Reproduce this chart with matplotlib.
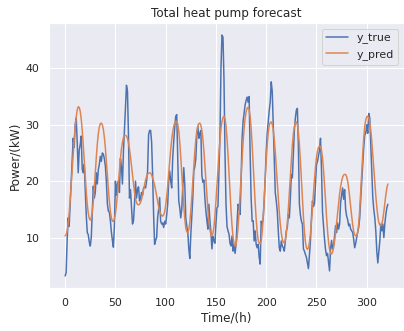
import numpy as np
import matplotlib
matplotlib.use("Agg")
import matplotlib.pyplot as plt
import seaborn as sns

# hourly values
y_true = [
    3.2, 3.8, 9.5, 13.5, 12.0, 15.9, 19.4, 24.0, 27.6, 26.0,
    30.0, 31.2, 27.0, 21.5, 25.5, 26.5, 28.0, 22.1, 21.5, 23.0,
    18.5, 14.0, 10.9, 10.5, 9.2, 8.5, 10.0, 14.5, 19.1, 17.0,
    18.0, 21.5, 19.5, 22.0, 23.0, 24.4, 23.5, 25.0, 24.8, 24.0,
    22.7, 20.0, 16.0, 14.7, 14.5, 13.0, 11.0, 9.5, 8.3, 12.0,
    20.0, 17.5, 19.5, 20.0, 18.0, 24.0, 22.5, 19.5, 25.3, 29.0,
    33.0, 37.0, 36.0, 28.0, 17.0, 18.5, 15.5, 12.4, 13.0, 16.0,
    20.0, 17.0, 18.5, 19.0, 16.5, 17.0, 18.0, 17.5, 18.8, 19.0,
    18.8, 20.0, 21.8, 28.2, 29.0, 29.0, 27.0, 21.2, 14.0, 8.8,
    9.5, 10.0, 13.5, 15.0, 17.1, 12.9, 12.4, 12.6, 11.8, 12.9,
    12.4, 14.0, 15.9, 20.0, 21.8, 20.0, 18.8, 24.1, 27.0, 29.5,
    31.5, 31.8, 24.0, 16.5, 15.3, 13.5, 15.0, 19.0, 22.4, 19.4,
    13.5, 12.0, 11.0, 8.0, 6.3, 10.5, 13.8, 17.1, 21.8, 22.6,
    24.0, 28.2, 29.7, 27.6, 28.5, 29.0, 21.0, 19.8, 20.2, 17.0,
    14.7, 13.0, 11.5, 15.9, 13.0, 11.0, 8.0, 10.2, 9.5, 9.0,
    12.4, 15.3, 15.5, 22.0, 28.0, 40.0, 45.9, 45.5, 38.0, 25.0,
    16.0, 12.0, 11.2, 10.6, 9.0, 8.5, 10.3, 7.6, 8.8, 7.2,
    8.8, 12.7, 15.9, 15.3, 14.1, 20.0, 27.6, 30.6, 32.0, 33.5,
    34.3, 34.9, 34.0, 35.0, 25.0, 17.0, 12.9, 13.0, 9.4, 11.2,
    8.8, 8.2, 8.8, 6.5, 5.3, 12.9, 12.4, 13.5, 16.5, 20.6,
    25.3, 28.5, 30.5, 32.5, 34.1, 37.6, 35.9, 30.0, 24.0, 18.0,
    16.5, 14.7, 11.2, 8.2, 7.6, 9.4, 8.5, 8.2, 7.6, 9.5,
    11.2, 11.8, 14.1, 13.5, 17.0, 21.2, 20.6, 25.0, 29.0, 31.2,
    32.6, 32.9, 26.0, 16.0, 14.0, 12.9, 12.4, 8.0, 7.6, 7.0,
    6.5, 5.5, 4.5, 7.0, 9.4, 13.5, 16.5, 15.5, 16.0, 19.4,
    22.9, 23.5, 24.5, 25.5, 27.6, 22.0, 14.5, 12.0, 9.7, 7.9,
    6.8, 7.2, 5.6, 4.1, 7.9, 9.5, 8.0, 8.5, 10.3, 12.1,
    10.9, 12.6, 11.5, 12.4, 16.2, 17.5, 18.8, 16.8, 18.5, 15.0,
    13.8, 13.2, 12.1, 12.4, 11.5, 11.2, 10.9, 9.7, 8.2, 9.0,
    10.0, 11.0, 11.8, 13.5, 16.8, 20.0, 23.0, 26.0, 28.2, 28.5,
    30.0, 28.5, 32.0, 31.2, 26.5, 21.8, 17.1, 15.0, 13.5, 11.2,
    7.6, 5.5, 7.5, 9.4, 12.4, 11.2, 12.4, 10.0, 12.5, 14.1,
    15.3, 15.9,
]

y_pred = [
    10.3, 10.5, 11.2, 12.5, 14.3, 16.6, 19.2, 22.0, 24.8, 27.4,
    29.6, 31.3, 32.6, 33.2, 33.1, 32.4, 31.0, 29.0, 26.5, 23.7,
    20.8, 18.1, 15.9, 14.3, 13.4, 13.1, 13.5, 14.6, 16.4, 18.8,
    21.5, 24.2, 26.6, 28.4, 29.6, 30.2, 30.3, 30.0, 29.2, 27.8,
    25.9, 23.6, 21.1, 18.6, 16.4, 14.6, 13.5, 12.9, 12.9, 13.3,
    14.2, 15.7, 17.6, 19.8, 22.0, 24.0, 25.7, 26.9, 27.7, 28.1,
    28.1, 28.0, 27.6, 26.8, 25.7, 24.3, 22.7, 21.0, 19.4, 18.0,
    16.9, 16.2, 15.9, 15.8, 15.9, 16.2, 16.8, 17.6, 18.5, 19.4,
    20.2, 20.8, 21.2, 21.4, 21.5, 21.4, 21.1, 20.6, 20.0, 19.3,
    18.4, 17.4, 16.4, 15.5, 14.7, 14.2, 13.9, 13.8, 14.0, 14.6,
    15.7, 17.3, 19.2, 21.4, 23.6, 25.6, 27.3, 28.7, 29.7, 30.3,
    30.6, 30.6, 30.1, 28.9, 26.9, 24.3, 21.4, 18.4, 15.6, 13.3,
    11.7, 11.0, 10.9, 11.4, 12.7, 14.7, 17.2, 20.0, 22.8, 25.3,
    27.4, 28.9, 29.8, 30.2, 30.3, 29.9, 29.0, 27.5, 25.4, 22.9,
    20.2, 17.5, 15.0, 12.9, 11.4, 10.5, 10.3, 10.7, 11.9, 13.9,
    16.4, 19.3, 22.3, 25.0, 27.4, 29.3, 30.6, 31.3, 31.5, 31.1,
    29.8, 27.6, 24.7, 21.4, 18.0, 14.8, 12.1, 10.1, 8.9, 8.5,
    8.8, 9.9, 11.8, 14.4, 17.5, 20.8, 24.0, 26.9, 29.3, 31.1,
    32.3, 32.9, 33.1, 32.7, 31.5, 29.4, 26.5, 23.1, 19.6, 16.2,
    13.3, 11.0, 9.6, 9.0, 8.9, 9.4, 11.0, 13.5, 16.7, 20.2,
    23.6, 26.5, 28.6, 29.9, 30.4, 30.5, 30.1, 29.1, 27.4, 25.2,
    22.6, 19.8, 17.0, 14.5, 12.4, 10.8, 9.7, 9.2, 9.1, 9.5,
    10.7, 12.6, 15.1, 18.0, 21.0, 23.9, 26.4, 28.4, 29.7, 30.3,
    30.5, 30.0, 28.7, 26.5, 23.6, 20.3, 16.9, 13.7, 11.1, 9.2,
    8.2, 7.9, 8.2, 9.1, 10.7, 12.8, 15.2, 17.8, 20.3, 22.5,
    24.2, 25.4, 26.0, 26.2, 26.1, 25.5, 24.1, 22.0, 19.4, 16.5,
    13.7, 11.2, 9.2, 7.9, 7.2, 7.1, 7.4, 8.2, 9.4, 10.9,
    12.6, 14.4, 16.1, 17.7, 19.0, 20.0, 20.7, 21.1, 21.2, 21.2,
    20.8, 20.0, 18.8, 17.2, 15.5, 13.8, 12.3, 11.1, 10.5, 10.3,
    10.3, 10.9, 12.5, 15.0, 18.1, 21.5, 24.8, 27.6, 29.7, 30.9,
    31.4, 31.5, 31.2, 30.4, 29.0, 27.1, 24.8, 22.3, 19.8, 17.4,
    15.4, 13.8, 12.7, 12.2, 12.1, 12.4, 13.3, 14.6, 16.1, 17.6,
    18.8, 19.5,
]

sns.set_theme()

fig = plt.figure(figsize=(404 / 72, 331 / 72), dpi=72)
ax = fig.add_axes([49 / 404, 43 / 331, 355 / 404, 265 / 331])

ax.plot(np.arange(len(y_true)), y_true, label="y_true")
ax.plot(np.arange(len(y_pred)), y_pred, label="y_pred")

ax.set_title("Total heat pump forecast")
ax.set_xlabel("Time/(h)")
ax.set_ylabel("Power/(kW)")
ax.legend(loc="upper right")

fig.savefig("out.png", dpi=72)
